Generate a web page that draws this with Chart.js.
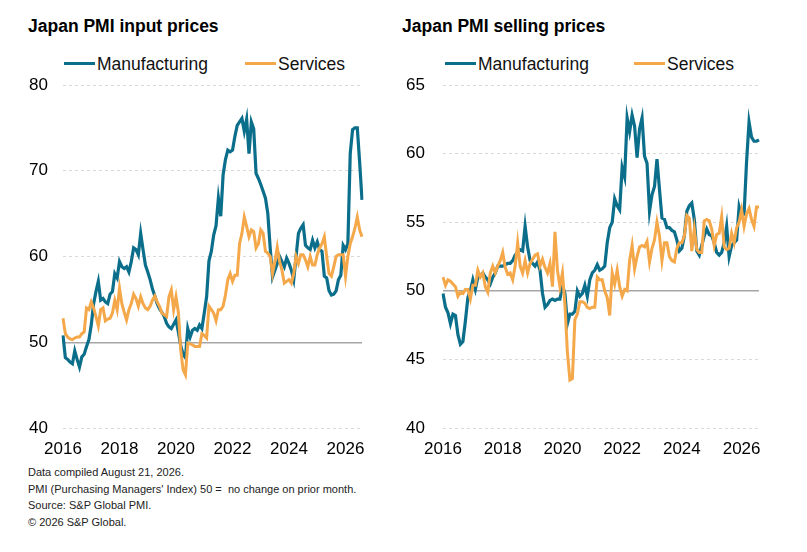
<!DOCTYPE html>
<html><head><meta charset="utf-8">
<script src="https://cdn.jsdelivr.net/npm/chart.js@4.4.1/dist/chart.umd.min.js"></script>
<style>
body{margin:0;background:#fff;width:807px;height:552px;position:relative;overflow:hidden;font-family:"Liberation Sans",Arial,sans-serif;}
.title{position:absolute;font-weight:bold;font-size:17.5px;line-height:1;color:#000;white-space:nowrap}
.leg{position:absolute;font-size:17.5px;line-height:1;color:#111;white-space:nowrap}
.sw{position:absolute;height:3px;width:31px}
.box{position:absolute}
.foot{position:absolute;left:28px;top:464px;font-size:11px;line-height:16.5px;color:#222;white-space:nowrap}
</style></head><body>
<div class="title" style="left:28px;top:18px">Japan PMI input prices</div>
<div class="title" style="left:402px;top:18px">Japan PMI selling prices</div>

<div class="sw" style="left:64px;top:62px;background:#0b6e8b"></div>
<div class="leg" style="left:97px;top:55.5px">Manufacturing</div>
<div class="sw" style="left:245px;top:62px;background:#f4a84a"></div>
<div class="leg" style="left:278px;top:55.5px">Services</div>

<div class="sw" style="left:445px;top:62px;background:#0b6e8b"></div>
<div class="leg" style="left:478px;top:55.5px">Manufacturing</div>
<div class="sw" style="left:634px;top:62px;background:#f4a84a"></div>
<div class="leg" style="left:667px;top:55.5px">Services</div>

<div class="box" style="left:0px;top:70px;width:373px;height:393px"><canvas id="c1"></canvas></div>
<div class="box" style="left:380px;top:70px;width:390px;height:393px"><canvas id="c2"></canvas></div>

<div class="foot">Data compiled August 21, 2026.<br>PMI (Purchasing Managers' Index) 50 =&nbsp; no change on prior month.<br>Source: S&amp;P Global PMI.<br>© 2026 S&amp;P Global.</div>

<script>
const startYear = 2016;
const monthCount = 128;
const yearTicks = ['2016','2018','2020','2022','2024','2026'];
const seriesNames = ['Manufacturing','Services'];

const inputManufacturing = [50.8,48.2,48.0,47.7,47.5,49.0,48.0,47.1,48.3,48.6,49.5,50.3,
 52.0,54.5,55.9,57.1,54.9,55.1,54.7,54.5,55.6,55.9,58.0,57.5,
 59.4,58.8,58.6,58.8,58.2,59.4,61.0,60.8,60.2,62.7,60.8,59.0,
 58.2,57.3,56.2,55.4,54.5,53.9,53.5,53.0,52.2,51.8,51.6,52.1,
 52.6,51.2,49.6,48.6,48.2,51.6,50.6,51.4,51.6,51.4,52.0,51.6,
 53.4,55.3,59.5,60.6,62.5,63.6,66.8,64.7,69.5,71.3,72.4,72.2,
 72.4,74.0,75.3,75.7,76.1,74.6,76.0,72.0,75.7,74.9,69.7,69.1,
 68.4,67.6,66.8,65.0,61.0,57.6,58.4,59.2,60.0,59.4,58.8,59.8,
 59.2,58.4,57.3,60.0,62.7,63.3,63.7,61.3,61.0,60.8,61.9,61.0,
 61.7,60.8,60.6,57.7,57.5,56.0,55.5,55.6,56.0,57.3,57.8,61.3,
 60.8,61.5,72.0,74.8,75.0,75.0,71.0,66.6];

const inputServices = [52.8,51.0,50.6,50.4,50.3,50.5,50.6,50.6,51.0,51.2,54.0,53.8,
 54.7,54.0,53.0,51.9,53.8,54.0,52.5,52.7,52.8,53.4,54.9,53.8,
 56.3,54.5,53.5,52.6,53.8,54.5,55.6,55.1,54.2,55.3,54.5,54.0,
 53.8,54.2,54.9,55.4,54.7,54.2,53.4,53.2,53.0,55.3,56.1,53.8,
 55.3,53.5,49.1,46.8,46.2,49.9,49.8,49.7,49.5,49.5,49.5,51.0,
 50.8,50.5,54.2,53.8,53.4,52.5,53.8,53.8,54.2,55.5,57.3,58.0,
 57.1,57.8,57.8,61.5,62.7,64.6,63.5,62.3,63.1,62.9,61.0,61.5,
 63.1,62.7,60.6,60.4,60.0,58.0,59.4,61.1,59.4,58.4,56.9,57.1,
 57.3,56.9,58.0,60.0,59.2,60.2,60.2,59.6,58.8,60.0,59.0,59.0,
 60.2,61.0,61.5,62.3,60.0,58.0,57.7,58.8,60.0,60.2,60.2,60.2,
 57.7,60.0,61.5,62.3,63.3,64.6,63.1,62.3];

const sellingManufacturing = [49.8,48.8,48.4,47.6,48.3,48.2,46.8,46.1,46.3,47.8,49.5,50.0,
 50.8,50.1,51.0,51.1,51.3,51.0,50.8,50.5,51.0,51.3,51.8,51.8,
 51.8,51.9,52.0,52.0,52.2,52.6,52.8,53.0,52.9,54.7,53.2,52.2,
 52.0,51.8,52.1,51.5,49.8,48.8,49.0,49.3,49.4,49.3,49.4,49.4,
 50.4,49.8,47.6,48.3,48.3,48.5,50.0,49.6,49.8,50.4,49.6,50.8,
 51.3,51.5,51.9,51.5,51.6,51.8,53.5,54.6,55.0,56.7,56.2,55.9,
 59.0,58.3,62.6,61.6,62.8,62.0,59.7,61.8,62.6,59.8,59.3,55.8,
 57.0,57.6,59.6,57.4,55.3,55.2,54.6,54.6,54.4,54.3,53.7,52.9,
 53.1,54.0,55.8,56.2,56.4,55.2,52.9,52.6,53.3,54.0,54.5,54.1,
 54.0,53.5,52.8,52.6,52.8,53.5,54.7,52.5,53.3,53.5,53.7,56.1,
 55.4,55.6,59.4,62.3,61.2,60.9,60.9,61.0];

const sellingServices = [51.0,50.4,50.8,50.7,50.5,50.3,49.6,49.9,49.8,50.1,50.1,49.4,
 50.4,50.4,51.5,51.0,51.3,50.3,49.9,51.3,51.8,51.3,51.8,52.2,
 52.8,51.7,51.2,51.3,50.8,51.8,53.5,51.8,51.3,52.2,51.3,52.0,
 52.3,52.6,52.7,51.8,52.3,51.7,51.3,52.0,50.3,54.3,51.5,50.3,
 51.3,49.0,45.5,43.5,43.6,47.9,48.3,49.2,49.2,49.1,48.8,48.7,
 48.8,48.8,51.0,50.8,50.8,50.0,49.5,48.2,51.3,50.5,51.5,50.3,
 49.6,50.1,50.0,52.2,53.3,51.6,52.5,53.2,53.3,53.2,53.6,52.1,
 53.1,53.7,55.0,54.0,52.2,53.5,53.5,52.5,52.2,52.1,53.1,53.5,
 53.5,54.0,55.5,55.3,52.9,54.5,53.0,52.8,52.8,55.1,55.2,55.1,
 54.5,53.3,54.1,54.2,55.4,53.2,53.0,53.1,54.2,53.5,54.6,55.0,
 55.9,54.7,55.6,56.0,55.2,54.7,56.1,56.1];

const months = [];
for (let i = 0; i < monthCount; i++) {
  const y = startYear + Math.floor(i / 12);
  const mo = (i % 12) + 1;
  months.push(y + '-' + String(mo).padStart(2, '0'));
}

const teal = '#0b6e8b';
const orange = '#f4a84a';

function makeChart(id, manu, serv, yMin, yMax, yStep, yPad) {
  new Chart(document.getElementById(id), {
    type: 'line',
    data: {
      labels: months,
      datasets: [
        {label: seriesNames[0], data: manu, borderColor: teal, backgroundColor: teal, borderWidth: 3.2, pointRadius: 0, tension: 0, order: 1},
        {label: seriesNames[1], data: serv, borderColor: orange, backgroundColor: orange, borderWidth: 3, pointRadius: 0, tension: 0, order: 0}
      ]
    },
    options: {
      responsive: true,
      maintainAspectRatio: false,
      animation: false,
      layout: {padding: {left: 0, right: 10, top: 15, bottom: 0}},
      plugins: {legend: {display: false}, tooltip: {enabled: false}},
      scales: {
        x: {
          grid: {display: false, drawTicks: false},
          border: {display: false},
          ticks: {
            autoSkip: false, maxRotation: 0, minRotation: 0, padding: 11,
            color: '#000', font: {size: 17, family: '"Liberation Sans", Arial, sans-serif'},
            callback: function(v, i) {
              const lab = months[i];
              const yr = lab.slice(0, 4);
              return (lab.slice(5) === '01' && yearTicks.includes(yr)) ? yr : '';
            }
          },
          afterFit: s => { s.height = 35; }
        },
        y: {
          min: yMin, max: yMax,
          grid: {
            drawTicks: false,
            color: c => (c.tick && c.tick.value === 50) ? '#a6a6a6' : '#d9d9d9',
            lineWidth: c => (c.tick && c.tick.value === 50) ? 1.5 : 1
          },
          border: {
            display: false,
            dash: c => (c.tick && c.tick.value === 50) ? [] : [3, 3]
          },
          ticks: {
            stepSize: yStep, padding: yPad, color: '#000',
            font: {size: 17, family: '"Liberation Sans", Arial, sans-serif'}
          },
          afterFit: s => { s.width = 63; s.paddingTop = 0; s.paddingBottom = 0; }
        }
      }
    }
  });
}

makeChart('c1', inputManufacturing, inputServices, 40, 80, 10, 15);
makeChart('c2', sellingManufacturing, sellingServices, 40, 65, 5, 18);
</script>
</body></html>
